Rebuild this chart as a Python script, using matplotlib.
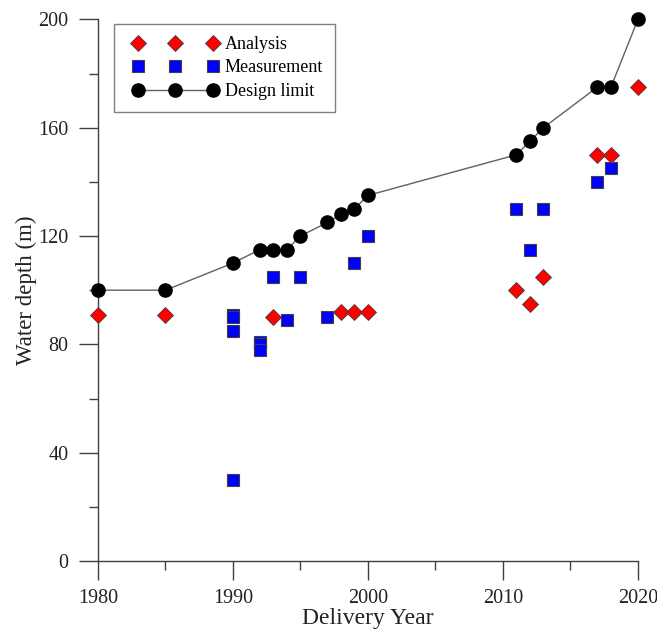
import matplotlib
matplotlib.use('Agg')
import matplotlib.pyplot as plt
from matplotlib.legend_handler import HandlerLine2D
from matplotlib.ticker import MultipleLocator

# design limit curve
DESIGN_YEARS = [1980, 1985, 1990, 1992, 1993, 1994, 1995, 1997, 1998, 1999, 2000,
                2011, 2012, 2013, 2017, 2018, 2020]
DESIGN_DEPTH = [100, 100, 110, 115, 115, 115, 120, 125, 128, 130, 135,
                150, 155, 160, 175, 175, 200]

# analysis points
ANALYSIS_YEARS = [1980, 1985, 1993, 1998, 1999, 2000, 2011, 2012, 2013, 2017, 2018, 2020]
ANALYSIS_DEPTH = [91, 91, 90, 92, 92, 92, 100, 95, 105, 150, 150, 175]

# measurement points
MEAS_YEARS = [1990, 1990, 1990, 1990, 1992, 1992, 1992, 1993, 1994, 1995, 1997,
              1999, 2000, 2011, 2012, 2013, 2017, 2018]
MEAS_DEPTH = [91, 90, 85, 30, 81, 80, 78, 105, 89, 105, 90,
              110, 120, 130, 115, 130, 140, 145]

AXIS_GREY = '#404040'

plt.rcParams['font.family'] = ['Liberation Serif', 'DejaVu Serif']

fig = plt.figure(figsize=(6.57, 6.35), dpi=100)
ax = fig.add_axes([0.149, 0.1165, 0.822, 0.853])

ax.plot(DESIGN_YEARS, DESIGN_DEPTH, color='#606060', lw=1.0, marker='o',
        markersize=9.5, markerfacecolor='black', markeredgecolor='black',
        label='Design limit', clip_on=False, zorder=3)
ax.plot(MEAS_YEARS, MEAS_DEPTH, ls='none', marker='s', markersize=9.3,
        markerfacecolor='#0000ff', markeredgecolor='#404040', markeredgewidth=0.8,
        label='Measurement', clip_on=False, zorder=4)
ax.plot(ANALYSIS_YEARS, ANALYSIS_DEPTH, ls='none', marker='D', markersize=7.8,
        markerfacecolor='#ff0000', markeredgecolor='#404040', markeredgewidth=0.6,
        label='Analysis', clip_on=False, zorder=5)

ax.set_xlim(1980, 2020)
ax.set_ylim(0, 200)
ax.xaxis.set_major_locator(MultipleLocator(10))
ax.xaxis.set_minor_locator(MultipleLocator(5))
ax.yaxis.set_major_locator(MultipleLocator(40))
ax.yaxis.set_minor_locator(MultipleLocator(20))

for side in ['top', 'right']:
    ax.spines[side].set_visible(False)
for side in ['left', 'bottom']:
    ax.spines[side].set_color(AXIS_GREY)
    ax.spines[side].set_linewidth(1.0)

ax.tick_params(which='major', direction='out', length=13.5, width=1.0,
               color=AXIS_GREY, labelsize=14.5, labelcolor='#222222')
ax.tick_params(which='minor', direction='out', length=6.5, width=1.0, color=AXIS_GREY)
ax.tick_params(axis='x', which='major', pad=7)
ax.tick_params(axis='y', which='major', pad=7.5)

ax.set_xlabel('Delivery Year', fontsize=17, color='#222222', labelpad=0)
ax.set_ylabel('Water depth (m)', fontsize=16.5, color='#222222', labelpad=1)

handles, labels = ax.get_legend_handles_labels()
order = [2, 1, 0]
leg = ax.legend([handles[i] for i in order], [labels[i] for i in order],
                loc='upper left', bbox_to_anchor=(0.0296, 0.991), borderaxespad=0,
                numpoints=3, handlelength=5.5, handletextpad=0.0, labelspacing=0.36,
                fontsize=13, fancybox=False, frameon=True, borderpad=0.65,
                handler_map={h: HandlerLine2D(marker_pad=0.68) for h in handles})
leg.get_frame().set_edgecolor('#606060')
leg.get_frame().set_linewidth(1.0)

fig.savefig('out.png', dpi=100)
